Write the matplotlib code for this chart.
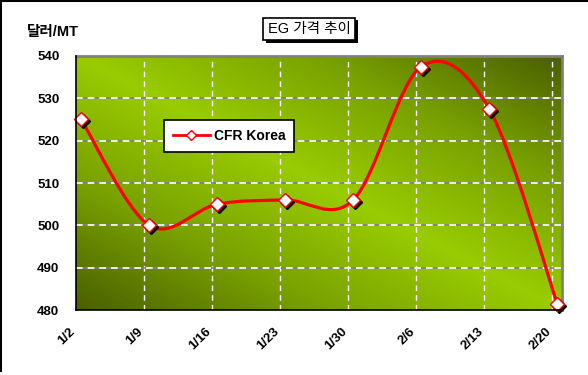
"""
EG price trend chart (CFR Korea), Excel-style gradient plot area.
"""

import matplotlib
matplotlib.use("Agg")
import matplotlib.pyplot as plt
import matplotlib.patheffects as pe
from matplotlib.colors import LinearSegmentedColormap
from matplotlib.lines import Line2D
from matplotlib.patches import PathPatch
from matplotlib.path import Path
from matplotlib.transforms import offset_copy, ScaledTranslation
import numpy as np

# ─── Data ──────────────────────────────────────────────────────────
dates = ["1/2", "1/9", "1/16", "1/23", "1/30", "2/6", "2/13", "2/20"]
cfr_korea = [525.0, 500.0, 505.0, 506.0, 506.0, 537.5, 527.5, 481.5]
y_ticks = [480, 490, 500, 510, 520, 530, 540]

TITLE = "EG 가격 추이"
Y_UNIT = "달러/MT"
SERIES_NAME = "CFR Korea"

FONTS = ["Liberation Sans", "Noto Sans CJK KR", "DejaVu Sans"]
plt.rcParams["font.family"] = FONTS

# ─── Figure ────────────────────────────────────────────────────────
fig = plt.figure(figsize=(5.88, 3.75), dpi=100, facecolor="white")
ax = fig.add_axes([0.1293, 0.1733, 0.8265, 0.6774])

x = np.arange(len(dates), dtype=float)
y = np.array(cfr_korea)
grid_shift = 0.075          # Excel draws the gridlines a touch left of the points
x_lo, x_hi = -grid_shift, len(dates) - 1 + 0.07
ax.set_xlim(x_lo, x_hi)
ax.set_ylim(y_ticks[0], y_ticks[-1])

# diagonal gradient: bright along top-left -> bottom-right, dark in the other corners
gx, gy = np.meshgrid(np.linspace(0, 1, 300), np.linspace(1, 0, 200))
shade = 1 - np.abs(gx + gy - 1)
cmap = LinearSegmentedColormap.from_list("eg", ["#4a5f00", "#78a000", "#99cc00"])
ax.imshow(shade, cmap=cmap, aspect="auto", extent=[x_lo, x_hi, y_ticks[0], y_ticks[-1]],
          zorder=0, interpolation="bilinear")

# gridlines
for gx_pos in x[1:] - grid_shift:
    ax.axvline(gx_pos, color="white", lw=1.0, ls=(0, (4, 3)), zorder=1)
for yv in y_ticks[1:-1]:
    ax.axhline(yv, color="#808080", lw=1.2, zorder=1)
    ax.axhline(yv, color="white", lw=1.2, ls=(0, (4, 3)), zorder=1)

# smoothed line (Catmull-Rom style bezier, as in Excel)
pts = np.column_stack([x, y])
verts = [pts[0]]
codes = [Path.MOVETO]
n = len(pts)
for i in range(n - 1):
    p0 = pts[i - 1] if i > 0 else pts[i]
    p3 = pts[i + 2] if i + 2 < n else pts[i + 1]
    c1 = pts[i] + (pts[i + 1] - p0) / 6.0
    c2 = pts[i + 1] - (p3 - pts[i]) / 6.0
    verts += [c1, c2, pts[i + 1]]
    codes += [Path.CURVE4] * 3
ax.add_patch(PathPatch(Path(verts, codes), fc="none", ec="#ff0000", lw=2.3,
                       zorder=3, capstyle="round", joinstyle="round"))

# markers with a small black drop shadow
shadow_tr = offset_copy(ax.transData, fig=fig, x=2, y=-2, units="dots")
ax.plot(x, y, ls="none", marker="D", ms=7, mfc="black", mec="black",
        transform=shadow_tr, zorder=4, clip_on=False)
ax.plot(x, y, ls="none", marker="D", ms=7, mfc="white", mec="#ff0000", mew=1.0,
        zorder=5, clip_on=False)

# axes frame
for side in ["top", "right"]:
    ax.spines[side].set_color("#808080")
    ax.spines[side].set_linewidth(2.0)
for side in ["left", "bottom"]:
    ax.spines[side].set_color("black")
    ax.spines[side].set_linewidth(1.2)
ax.spines["left"].set_zorder(6)
ax.spines["bottom"].set_zorder(6)

ax.set_yticks(y_ticks)
ax.set_yticklabels([str(v) for v in y_ticks], fontsize=9.5, fontweight="bold")
ax.set_xticks(x - grid_shift)
ax.set_xticklabels(dates, fontsize=9.5, fontweight="bold", rotation=45,
                   ha="right", va="top", rotation_mode="anchor")
ax.tick_params(axis="both", length=0)
ax.tick_params(axis="y", pad=12)
ax.tick_params(axis="x", pad=11)
label_nudge = ScaledTranslation(-7 / 100, 0, fig.dpi_scale_trans)
for lbl in ax.get_xticklabels():
    lbl.set_transform(lbl.get_transform() + label_nudge)

# legend
handle = Line2D([], [], color="#ff0000", lw=2.0, marker="D", ms=5,
                mfc="white", mec="#ff0000")
leg = ax.legend([handle], [SERIES_NAME], loc="center",
                bbox_to_anchor=(0.3155, 0.685), frameon=True, fancybox=False,
                edgecolor="black", facecolor="white", framealpha=1.0,
                prop={"family": FONTS, "weight": "bold", "size": 10},
                handlelength=2.6, borderpad=0.65, handletextpad=0.3)
leg.get_frame().set_linewidth(1.2)
leg.set_zorder(7)

# title box with shadow
title = fig.text(309 / 588, 1 - 29 / 375, TITLE, ha="center", va="center",
                 fontsize=10.5,
                 bbox=dict(boxstyle="square,pad=0.3", fc="white", ec="black", lw=1.2))
title.get_bbox_patch().set_path_effects([
    pe.SimplePatchShadow(offset=(2, -2), shadow_rgbFace="black", alpha=1.0),
    pe.Normal(),
])

# unit label
fig.text(27 / 588, 1 - 32 / 375, Y_UNIT, ha="left", va="center",
         fontsize=10.5, fontweight="bold")

# outer frame (left and top only, as cropped in the original)
fig.add_artist(Line2D([0.0015, 0.0015], [0.01, 1.0], color="black", lw=1.5,
                      transform=fig.transFigure))
fig.add_artist(Line2D([0.0, 1.0], [0.998, 0.998], color="black", lw=1.5,
                      transform=fig.transFigure))

fig.savefig("out.png", dpi=100, facecolor="white")
